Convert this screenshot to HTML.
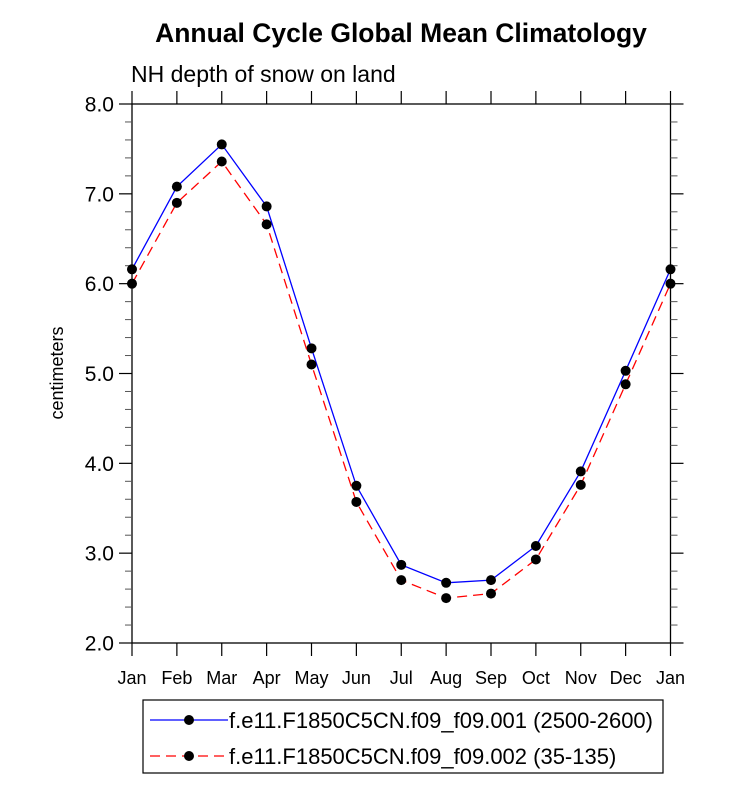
<!DOCTYPE html>
<html><head><meta charset="utf-8"><style>
body{margin:0;background:#fff;}
svg text{font-family:"Liberation Sans",Arial,sans-serif;}
</style></head><body>
<svg id="chart" width="733" height="783" xmlns="http://www.w3.org/2000/svg">
<text x="401" y="42" text-anchor="middle" font-size="26.5" font-weight="bold">Annual Cycle Global Mean Climatology</text>
<text x="131" y="82" font-size="23">NH depth of snow on land</text>
<text transform="translate(63,373) rotate(-90)" text-anchor="middle" font-size="18">centimeters</text>
<g id="axes"></g>
<g id="series"></g>
<g>
<rect x="143" y="700" width="520" height="73" fill="#fff" stroke="#000" stroke-width="1.2"/>
<g>
<line x1="150" y1="720" x2="228" y2="720" stroke="#0000ff" stroke-width="1.3"/>
<circle cx="189" cy="720" r="5" fill="#000"/>
<text x="229" y="728" font-size="22">f.e11.F1850C5CN.f09_f09.001 (2500-2600)</text>
</g>
<g>
<line x1="150" y1="756" x2="228" y2="756" stroke="#ff0000" stroke-width="1.3" stroke-dasharray="10,6"/>
<circle cx="189" cy="756" r="5" fill="#000"/>
<text x="229" y="764" font-size="22">f.e11.F1850C5CN.f09_f09.002 (35-135)</text>
</g>
</g>
</svg>
<script>
const months = ["Jan","Feb","Mar","Apr","May","Jun","Jul","Aug","Sep","Oct","Nov","Dec","Jan"];
const series001 = [6.16,7.08,7.55,6.86,5.28,3.75,2.87,2.67,2.70,3.08,3.91,5.03,6.16];
const series002 = [6.00,6.90,7.36,6.66,5.10,3.57,2.70,2.50,2.55,2.93,3.76,4.88,6.00];
const yTicks = ["2.0","3.0","4.0","5.0","6.0","7.0","8.0"];
const L=132,R=670.5,T=104,B=643,YMIN=2,YMAX=8;
const xs=i=>L+(R-L)*i/(months.length-1);
const ys=v=>B-(B-T)*(v-YMIN)/(YMAX-YMIN);
const NS="http://www.w3.org/2000/svg";
function mk(tag,attrs,parent){const e=document.createElementNS(NS,tag);for(const k in attrs)e.setAttribute(k,attrs[k]);parent.appendChild(e);return e;}
const ax=document.getElementById('axes');
const frame=mk('rect',{x:L,y:T,width:R-L,height:B-T,fill:'none',stroke:'#000','stroke-width':1.3},ax);


yTicks.forEach(t=>{const v=parseFloat(t),y=ys(v);
 mk('line',{x1:L-13,y1:y,x2:L,y2:y,stroke:'#000','stroke-width':1.2},ax);
 mk('line',{x1:R,y1:y,x2:R+13,y2:y,stroke:'#000','stroke-width':1.2},ax);
 const tx=mk('text',{x:L-18,y:y+7.5,'text-anchor':'end','font-size':21},ax);tx.textContent=t;
 
 
 if(v<YMAX){for(let k=1;k<5;k++){const yy=ys(v+k*0.2);
  mk('line',{x1:L-7,y1:yy,x2:L,y2:yy,stroke:'#555','stroke-width':1},ax);
  mk('line',{x1:R,y1:yy,x2:R+7,y2:yy,stroke:'#555','stroke-width':1},ax);}}
});
months.forEach((m,i)=>{const x=xs(i);
 mk('line',{x1:x,y1:B,x2:x,y2:B+13,stroke:'#000','stroke-width':1.2},ax);
 mk('line',{x1:x,y1:T-13,x2:x,y2:T,stroke:'#000','stroke-width':1.2},ax);
 const tx=mk('text',{x:x,y:B+41,'text-anchor':'middle','font-size':18},ax);tx.textContent=m;
 
 
});
const sg=document.getElementById('series');
function draw(data,color,dash,name){
 const g=mk('g',{},sg);
 
 
 const a={points:data.map((v,i)=>xs(i)+','+ys(v)).join(' '),fill:'none',stroke:color,'stroke-width':1.3};
 if(dash)a['stroke-dasharray']=dash;
 mk('polyline',a,g);
 data.forEach((v,i)=>{const c=mk('circle',{cx:xs(i),cy:ys(v),r:5,fill:'#000'},g);
  
  });
}
draw(series001,'#0000ff',null,'series-001-line');
draw(series002,'#ff0000','10,6','series-002-line');
</script>
</body></html>
